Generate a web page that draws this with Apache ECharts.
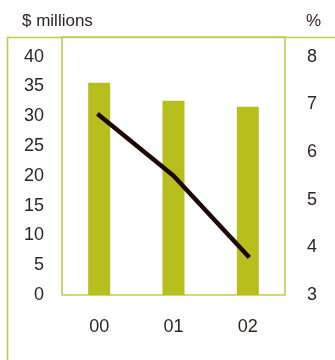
<!DOCTYPE html>
<html>
<head>
<meta charset="utf-8">
<style>
  html, body { margin: 0; padding: 0; background: #ffffff; }
  #chart { width: 335px; height: 360px; }
</style>
<script src="https://cdn.jsdelivr.net/npm/echarts@6/dist/echarts.min.js"></script>
</head>
<body>
<div id="chart"></div>
<script>
// Years shown on the category axis
var categories = ['00', '01', '02'];
// Revenue bars, $ millions (left axis)
var revenue = [35.6, 32.6, 31.6];
// Margin line, % (right axis)
var margin = [6.77, 5.5, 3.82];
// Tick labels
var leftTicks = [0, 5, 10, 15, 20, 25, 30, 35, 40];
var rightTicks = [3, 4, 5, 6, 7, 8];

var frameColor = '#c3cb4e';
var barColor = '#b6bf1c';
var lineColor = '#1c0904';
var textColor = '#302424';
var fontFamily = '"Liberation Sans", Arial, sans-serif';

var chart = echarts.init(document.getElementById('chart'), null, { renderer: 'canvas' });

// Plot box spans a bit above the top tick, so axis max extends past 40 / 8
var gridTop = 37, gridBottom = 65, chartH = 360;
var plotH = chartH - gridTop - gridBottom;
var tickSpan = 238.4; // pixels from 0 to 40
var leftMax = leftTicks[leftTicks.length - 1] * plotH / tickSpan;
var rightMin = rightTicks[0];
var rightMax = rightMin + (rightTicks[rightTicks.length - 1] - rightMin) * plotH / tickSpan;

function tickFormatter(list) {
  return function (v) {
    for (var i = 0; i < list.length; i++) {
      if (Math.abs(list[i] - v) < 1e-6) return String(list[i]);
    }
    return '';
  };
}

var labelStyle = { color: textColor, fontSize: 18, fontFamily: fontFamily };

chart.setOption({
  animation: false,
  backgroundColor: '#ffffff',
  grid: {
    show: true,
    left: 62,
    right: 50,
    top: gridTop,
    bottom: gridBottom,
    borderColor: frameColor,
    borderWidth: 1.6,
    containLabel: false
  },
  graphic: [
    {
      type: 'polyline',
      shape: { points: [[7.5, 360], [7.5, 37.5], [335, 37.5]] },
      style: { stroke: frameColor, lineWidth: 1.6, fill: null },
      silent: true
    },
    {
      type: 'text',
      left: 22,
      top: 13,
      style: { text: '$ millions', fill: textColor, fontSize: 17, fontFamily: fontFamily }
    },
    {
      type: 'text',
      left: 306,
      top: 13,
      style: { text: '%', fill: textColor, fontSize: 17, fontFamily: fontFamily }
    }
  ],
  xAxis: {
    type: 'category',
    data: categories,
    boundaryGap: true,
    axisLine: { show: false },
    axisTick: { show: false },
    splitLine: { show: false },
    axisLabel: Object.assign({ margin: 23 }, labelStyle)
  },
  yAxis: [
    {
      type: 'value',
      min: 0,
      max: leftMax,
      interval: 5,
      axisLine: { show: false },
      axisTick: { show: false },
      splitLine: { show: false },
      axisLabel: Object.assign({ margin: 18, showMaxLabel: false, formatter: tickFormatter(leftTicks) }, labelStyle)
    },
    {
      type: 'value',
      position: 'right',
      min: rightMin,
      max: rightMax,
      interval: 1,
      axisLine: { show: false },
      axisTick: { show: false },
      splitLine: { show: false },
      axisLabel: Object.assign({ margin: 22, showMaxLabel: false, formatter: tickFormatter(rightTicks) }, labelStyle)
    }
  ],
  series: [
    {
      type: 'bar',
      data: revenue,
      yAxisIndex: 0,
      barWidth: 22,
      itemStyle: { color: barColor },
      z: 2
    },
    {
      type: 'line',
      data: margin,
      yAxisIndex: 1,
      symbol: 'none',
      smooth: false,
      lineStyle: { color: lineColor, width: 4.5, cap: 'square' },
      z: 3
    }
  ]
});
</script>
</body>
</html>
